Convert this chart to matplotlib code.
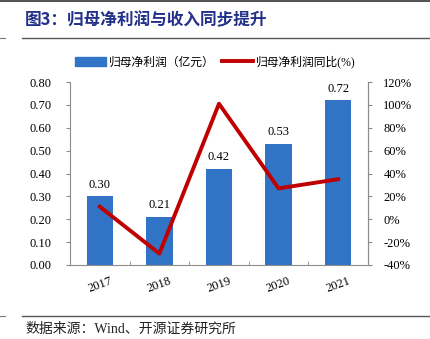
import matplotlib.pyplot as plt
from matplotlib.lines import Line2D
from matplotlib.patches import Patch
from matplotlib.ticker import FuncFormatter, MultipleLocator

plt.rcParams['font.family'] = ['Liberation Serif', 'Noto Sans CJK SC']

years = ['2017', '2018', '2019', '2020', '2021']
profit = [0.30, 0.21, 0.42, 0.53, 0.72]
yoy = [11, -30, 101, 27, 35]

bar_color = '#3174C6'
line_color = '#C00000'
axis_color = '#8C8C8C'
cjk = ['Noto Sans CJK SC', 'DejaVu Sans']
mixed = ['Liberation Serif', 'Noto Sans CJK SC']

fig = plt.figure(figsize=(4.31, 3.39), dpi=100)
ax = fig.add_axes([0.1624, 0.2183, 0.6914, 0.5398])
x = list(range(len(years)))
bars = ax.bar(x, profit, width=0.44, color=bar_color, zorder=2)
ax.set_xlim(-0.5, len(years) - 0.5)
ax.set_ylim(0, 0.8)
ax.yaxis.set_major_locator(MultipleLocator(0.1))
ax.yaxis.set_major_formatter(FuncFormatter(lambda v, p: f'{v:.2f}'))
ax.set_xticks(x)
ax.set_xticklabels(years, rotation=20, fontsize=9)
ax.tick_params(axis='x', length=0, pad=7)
ax.set_xticks([i + 0.5 for i in x[:-1]], minor=True)
ax.tick_params(axis='x', which='minor', direction='in', length=3, color=axis_color)
ax.tick_params(axis='y', length=3, color=axis_color, labelsize=9, pad=10)
ax.spines['top'].set_visible(False)
for s in ['left', 'bottom', 'right']:
    ax.spines[s].set_color(axis_color)
    ax.spines[s].set_linewidth(0.8)

for b, v in zip(bars, profit):
    ax.text(b.get_x() + b.get_width() / 2, v + 0.025, f'{v:.2f}',
            ha='center', va='bottom', fontsize=9)

ax2 = ax.twinx()
ax2.plot(x, yoy, color=line_color, lw=2.8, zorder=3)
ax2.set_ylim(-40, 120)
ax2.yaxis.set_major_locator(MultipleLocator(20))
ax2.yaxis.set_major_formatter(FuncFormatter(lambda v, p: f'{v:.0f}%'))
ax2.tick_params(axis='y', length=3, color=axis_color, labelsize=9, pad=8)
ax2.spines['top'].set_visible(False)
ax2.spines['right'].set_color(axis_color)
ax2.spines['right'].set_linewidth(0.8)
ax2.spines['left'].set_visible(False)
ax2.spines['bottom'].set_visible(False)

handles = [Patch(color=bar_color), Line2D([0], [0], color=line_color, lw=2.8)]
labels = ['归母净利润（亿元）', '归母净利润同比(%)']
fig.legend(handles, labels, loc='center', bbox_to_anchor=(0.5, 1 - 62 / 339),
           ncol=2, frameon=False, prop={'family': mixed, 'size': 8.5},
           handlelength=2.6, handleheight=0.8, columnspacing=0.6, handletextpad=0.3)

# title and frame lines
fig.text(25 / 431, 1 - 20 / 339, '图3：归母净利润与收入同步提升', family=cjk,
         fontsize=12, fontweight='bold', color='#23308A', va='center')
fig.add_artist(Line2D([0, 1], [1 - 1 / 339] * 2, color='#333333', lw=1.2))
fig.add_artist(Line2D([22 / 431, 1], [1 - 38 / 339] * 2, color='#555555', lw=1.0))
fig.add_artist(Line2D([0, 5 / 431], [1 - 38 / 339] * 2, color='#777777', lw=0.8))
fig.add_artist(Line2D([22 / 431, 1], [1 - 316 / 339] * 2, color='#555555', lw=1.0))
fig.add_artist(Line2D([0, 5 / 431], [1 - 316 / 339] * 2, color='#777777', lw=0.8))
fig.text(25 / 431, 1 - 329 / 339, '数据来源：Wind、开源证券研究所', family=mixed,
         fontsize=10, color='#222222', va='center')

fig.savefig('out.png', dpi=100)
